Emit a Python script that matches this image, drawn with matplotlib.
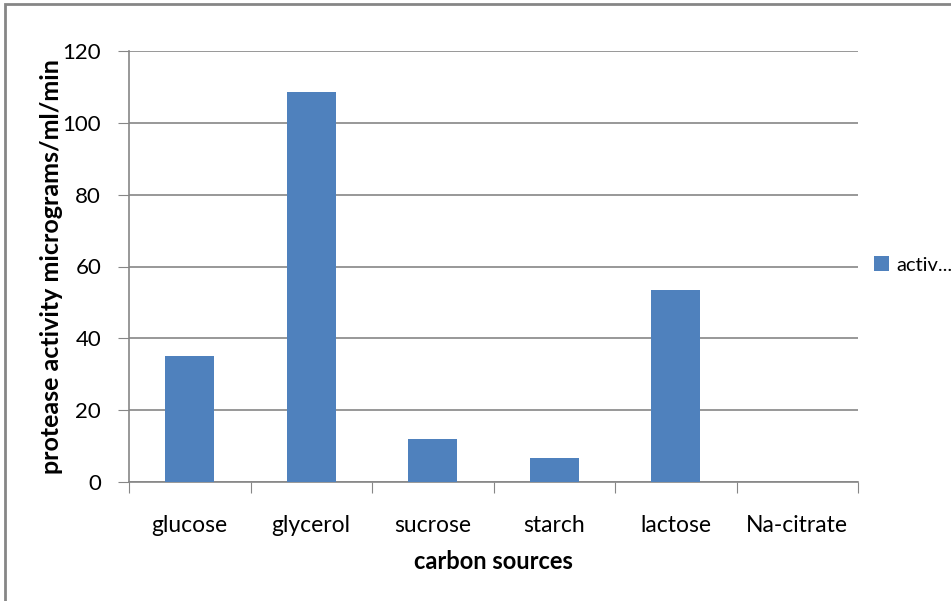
import matplotlib.pyplot as plt
from matplotlib.patches import Rectangle

# carbon sources and protease activity
sources = ['glucose', 'glycerol', 'sucrose', 'starch', 'lactose', 'Na-citrate']
activity = [35.2, 108.5, 12.1, 6.8, 53.4, 0]
legend_label = 'activ...'

plt.rcParams['font.family'] = ['Lato', 'DejaVu Sans']

fig = plt.figure(figsize=(9.51, 6.01), dpi=100)
ax = fig.add_axes([129/951, 1 - 482/601, 729/951, 431/601])

pos = list(range(len(sources)))
ax.bar(pos, activity, width=0.4, color='#4F81BD', label=legend_label, zorder=3)

# excel style: tick marks between categories, labels at centres
ax.set_xlim(-0.5, len(sources) - 0.5)
ax.set_xticks([p - 0.5 for p in pos] + [len(sources) - 0.5])
ax.set_xticklabels([])
ax.set_xticks(pos, minor=True)
ax.set_xticklabels(sources, minor=True, fontsize=16.5)
ax.tick_params(axis='x', which='major', length=8, color='#868686')
ax.tick_params(axis='x', which='minor', length=0, pad=24)

ax.set_ylim(0, 120)
ax.set_yticks(range(0, 121, 20))
ax.tick_params(axis='y', length=8, color='#868686', labelsize=16, pad=12)
ax.grid(axis='y', color='#868686', linewidth=1.2, zorder=0)

for s in ['top', 'right']:
    ax.spines[s].set_visible(False)
for s in ['left', 'bottom']:
    ax.spines[s].set_color('#868686')
    ax.spines[s].set_linewidth(1.2)

ax.set_xlabel('carbon sources', fontsize=17, fontweight='bold', labelpad=10)
ax.set_ylabel('protease activity micrograms/ml/min', fontsize=18, fontweight='bold')
ax.yaxis.set_label_coords(-66/729, 0.5)

fig.legend(loc='center left', bbox_to_anchor=(856/951, 1 - 265/601), frameon=False,
           fontsize=14.5, handlelength=0.75, handleheight=0.75, handletextpad=0.35)

# outer chart border (only top and left visible in the crop)
fig.add_artist(Rectangle((5/951, -0.1), 1.2, 1.1 - 4/601, transform=fig.transFigure,
                         fill=False, edgecolor='#868686', linewidth=2))

fig.savefig('out.png', dpi=100)
